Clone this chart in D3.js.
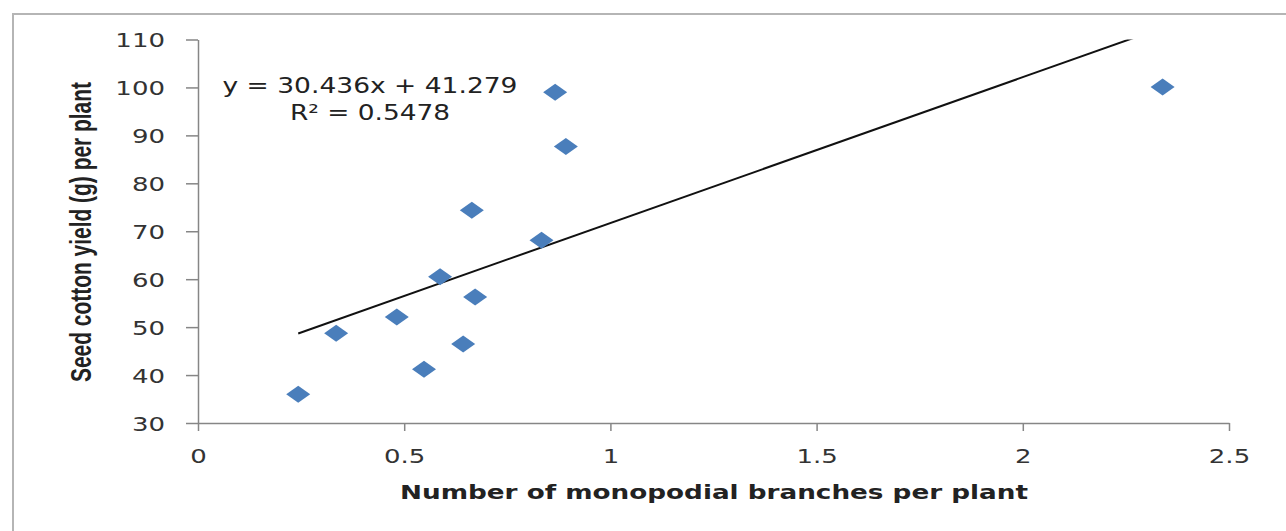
<!DOCTYPE html>
<html><head><meta charset="utf-8">
<script src="https://cdn.jsdelivr.net/npm/d3@7"></script>
<style>html,body{margin:0;padding:0;background:#fff;}svg{display:block;}</style>
</head><body>
<svg id="chart" width="1286" height="531"></svg>
<script>
// Data
const branches = [0.243, 0.335, 0.482, 0.548, 0.587, 0.643, 0.664, 0.672, 0.833, 0.866, 0.892, 2.339];
const yieldG   = [36.0, 48.7, 52.1, 41.2, 60.5, 46.5, 74.4, 56.3, 68.1, 99.0, 87.7, 100.1];
const xTicks = [0, 0.5, 1, 1.5, 2, 2.5];
const yTicks = [30, 40, 50, 60, 70, 80, 90, 100, 110];
const slope = 30.436, intercept = 41.279;
const eqLabel = "y = 30.436x + 41.279";
const r2Label = "R² = 0.5478";
const xTitle = "Number of monopodial branches per plant";
const yTitle = "Seed cotton yield (g) per plant";

(function () {
const SX = 1.3; // horizontal stretch of the reference image
const svg = d3.select("#chart");
const pLeft = 198, pRight = 1229, pTop = 39.5, pBottom = 423;
const x = d3.scaleLinear().domain([0, 2.5]).range([pLeft, pRight]);
const y = d3.scaleLinear().domain([30, 110]).range([pBottom, pTop]);

function stretch(sel, k) {
  sel.each(function () {
    const n = this.getComputedTextLength();
    d3.select(this).attr("textLength", n * k).attr("lengthAdjust", "spacingAndGlyphs");
  });
}

// outer border
svg.append("rect").attr("x", 13).attr("y", 14).attr("width", 1400).attr("height", 700)
  .attr("fill", "#fff").attr("stroke", "#b5b5b5").attr("stroke-width", 2);

const axisColor = "#868686";
const font = "'DejaVu Sans', Verdana, sans-serif";

// Y axis
const gy = svg.append("g").attr("transform", `translate(${pLeft},0)`)
  .call(d3.axisLeft(y).tickValues(yTicks).tickSize(12).tickSizeOuter(0).tickPadding(21).tickFormat(d3.format("d")));
gy.select(".domain").attr("stroke", axisColor).attr("stroke-width", 1.5);
gy.selectAll(".tick line").attr("stroke", axisColor).attr("stroke-width", 1.5);
gy.selectAll(".tick text").attr("font-family", font).attr("font-size", 20).attr("fill", "#333").attr("dy", "0.36em");

// X axis
const gx = svg.append("g").attr("transform", `translate(0,${pBottom})`)
  .call(d3.axisBottom(x).tickValues(xTicks).tickSize(8).tickSizeOuter(0).tickPadding(18).tickFormat(d => String(d)));
gx.select(".domain").attr("stroke", axisColor).attr("stroke-width", 1.5);
gx.selectAll(".tick line").attr("stroke", axisColor).attr("stroke-width", 1.5);
gx.selectAll(".tick text").attr("font-family", font).attr("font-size", 20).attr("fill", "#333");

stretch(gy.selectAll(".tick text"), SX);
stretch(gx.selectAll(".tick text"), SX);

// clip for trendline
svg.append("clipPath").attr("id", "plotclip").append("rect")
  .attr("x", pLeft).attr("y", pTop).attr("width", pRight - pLeft).attr("height", pBottom - pTop);

// trendline
const xmin = d3.min(branches), xmax = d3.max(branches);
svg.append("line").attr("clip-path", "url(#plotclip)")
  .attr("x1", x(xmin)).attr("y1", y(slope * xmin + intercept))
  .attr("x2", x(xmax)).attr("y2", y(slope * xmax + intercept))
  .attr("stroke", "#111").attr("stroke-width", 2);

// points (diamonds, stretched horizontally like the reference)
const diamond = "M0,-8.5L12,0L0,8.5L-12,0Z";
svg.append("g").selectAll("path").data(branches.map((b, i) => [b, yieldG[i]])).join("path")
  .attr("d", diamond)
  .attr("transform", d => `translate(${x(d[0])},${y(d[1])})`)
  .attr("fill", "#4a7ebb");

// equation labels
svg.append("text").attr("x", 370).attr("y", 93).attr("text-anchor", "middle")
  .attr("font-family", font).attr("font-size", 21).attr("fill", "#222")
  .attr("textLength", 295).attr("lengthAdjust", "spacingAndGlyphs").text(eqLabel);
svg.append("text").attr("x", 370).attr("y", 120).attr("text-anchor", "middle")
  .attr("font-family", font).attr("font-size", 21).attr("fill", "#222")
  .attr("textLength", 160).attr("lengthAdjust", "spacingAndGlyphs").text(r2Label);

// axis titles
svg.append("text").attr("x", 400).attr("y", 499)
  .attr("font-family", font).attr("font-weight", "bold").attr("font-size", 19).attr("fill", "#222")
  .attr("textLength", 628).attr("lengthAdjust", "spacingAndGlyphs").text(xTitle);

svg.append("text")
  .attr("transform", `translate(91,232) scale(1.4,1) rotate(-90)`)
  .attr("text-anchor", "middle")
  .attr("font-family", "'Liberation Sans Narrow', 'Liberation Sans', Arial, sans-serif")
  .attr("font-weight", "bold").attr("font-size", 21).attr("fill", "#222")
  .attr("textLength", 300).attr("lengthAdjust", "spacingAndGlyphs").text(yTitle);
})();
</script>
</body></html>
